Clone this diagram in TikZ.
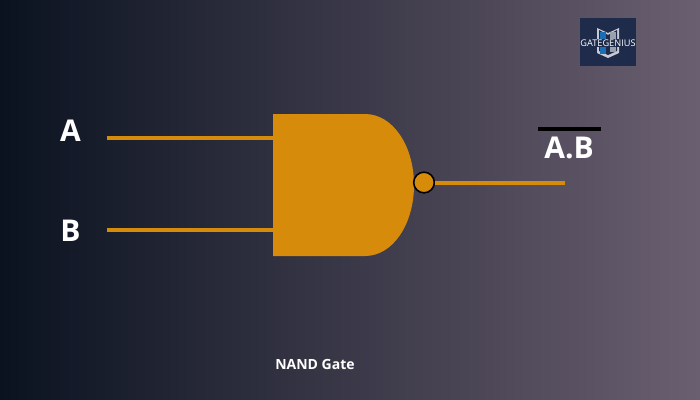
\documentclass[tikz,border=0pt]{standalone}
\usepackage{amsmath}
\usepackage{fontspec}
\setmainfont{Open Sans}
\definecolor{gateorange}{HTML}{D68C0A}
\definecolor{logoblue}{HTML}{1F2B4B}
\definecolor{bgleft}{HTML}{0A1220}
\definecolor{bgmid}{HTML}{3A3946}
\definecolor{bgright}{HTML}{6A5F70}
\tikzset{
  wire/.style={color=gateorange, line width=3pt},
  label/.style={inner sep=0.75pt, text=white, font=\bfseries\fontsize{22.5}{24}\selectfont},
}

\begin{document}
\begin{tikzpicture}[x=0.75pt,y=0.75pt,yscale=-1,xscale=1]
        % Background
        \path [use as bounding box, left color=bgleft, middle color=bgmid, right color=bgright] (0,0) rectangle (700,400);

        % Logo
        \fill [logoblue] (580,18) rectangle (636,66);
        \fill [color=white!75!logoblue] (597,28) -- (608,33) -- (619,28) -- (619,53) -- (608,58) -- (597,53) -- cycle;
        \fill [color=logoblue] (599,30) -- (608,35) -- (617,30) -- (617,51) -- (608,55) -- (599,51) -- cycle;
        \fill [color={rgb, 255:red, 28; green, 110; blue, 180 }] (600,32) rectangle (606,54);
        \fill [color=white!55!logoblue] (610,32) rectangle (616,52);
        \node (logo) [inner sep=0.5pt, fill=logoblue, text=white, font=\fontsize{6.9}{7}\selectfont] at (608,43) {GATEGENIUS};

        % Gate
        \fill [gateorange] (273,114) -- (365,114) .. controls (393,114) and (414,146) .. (414,185) .. controls (414,224) and (393,256) .. (365,256) -- (273,256) -- cycle;
        \coordinate (gateA) at (274,137.5);
        \coordinate (gateB) at (274,229.5);

        % Free ends
        \coordinate (inA) at (107,137.5);
        \coordinate (inB) at (107,229.5);
        \coordinate (out) at (565,182.5);

        % Bubble
        \node (bubble) [circle, draw=black, fill=gateorange, line width=1.2pt, minimum size=15.5pt, inner sep=0pt] at (424,182.5) {};

        % Wires
        \draw [wire] (inA) -- (gateA);
        \draw [wire] (inB) -- (gateB);
        \draw [wire] (bubble) -- (out);

        % Text Node
        \node (labelA) [label] at (70.5,131) {A};
        % Text Node
        \node (labelB) [label] at (70.5,231) {B};
        % Text Node
        \node (labelOut) [label] at (569,148) {A.B};
        \coordinate (barL) at (538,129);
        \coordinate (barR) at (601,129);
        \draw [black, line width=3pt] (barL) -- (barR);
        % Text Node
        \node (caption) [inner sep=0.75pt, text=white, font=\bfseries\fontsize{10.5}{12}\selectfont] at (315,364) {NAND Gate};

\end{tikzpicture}
\end{document}
